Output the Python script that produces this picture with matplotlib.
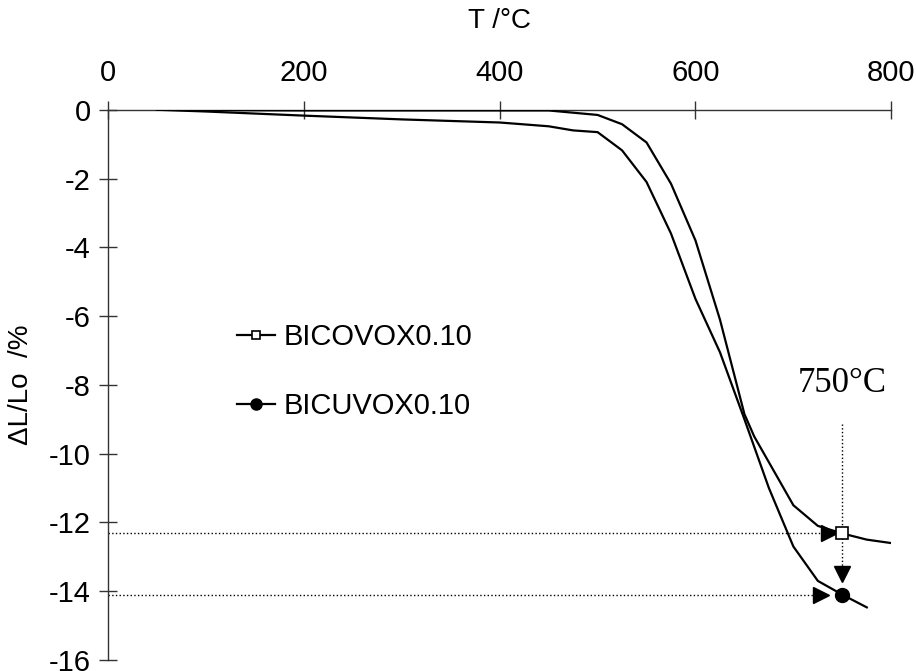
import numpy as np
import matplotlib
matplotlib.use("Agg")
import matplotlib.pyplot as plt

plt.rcParams['font.family'] = ['Liberation Sans', 'DejaVu Sans']
plt.rcParams['axes.unicode_minus'] = False

# dilatometry data
t_co = [50, 100, 200, 300, 400, 450, 500, 525, 550, 575, 600, 625, 650, 660, 700, 725, 750, 775, 800]
dl_co = [0, -0.01, -0.02, -0.02, -0.02, -0.02, -0.15, -0.42, -0.95, -2.15, -3.8, -6.1, -8.85, -9.5,
         -11.5, -12.1, -12.32, -12.5, -12.6]

t_cu = [50, 100, 200, 300, 400, 450, 475, 500, 525, 550, 575, 600, 625, 650, 675, 700, 725, 750, 775]
dl_cu = [0, -0.05, -0.17, -0.28, -0.37, -0.48, -0.6, -0.65, -1.18, -2.1, -3.6, -5.5, -7.05, -9.0,
         -11.0, -12.7, -13.7, -14.1, -14.47]

labels = ['BICOVOX0.10', 'BICUVOX0.10']
t_mark = 750
xticks = [0, 200, 400, 600, 800]
yticks = [0, -2, -4, -6, -8, -10, -12, -14, -16]

fig = plt.figure(figsize=(9.16, 6.71), dpi=100)
ax = fig.add_axes([0.118, 0.0164, 0.855, 0.82])

i_co = t_co.index(t_mark)
i_cu = t_cu.index(t_mark)
y_co = dl_co[i_co]
y_cu = dl_cu[i_cu]

# dotted guide lines to the 750 °C readings
ax.plot([0, t_mark - 14], [y_co, y_co], ls=':', color='k', lw=1)
ax.plot([0, t_mark - 22], [y_cu, y_cu], ls=':', color='k', lw=1)
ax.plot([t_mark, t_mark], [-9.15, y_cu + 0.55], ls=':', color='k', lw=1)
ax.plot([t_mark - 14, t_mark - 22], [y_co, y_cu], ls='none', marker='>', ms=11, color='k')
ax.plot([t_mark], [y_cu + 0.6], ls='none', marker='v', ms=11, color='k')

ax.plot(t_co, dl_co, color='k', lw=1.6, marker='s', ms=8, mfc='white', mec='k', mew=1.2,
        markevery=[i_co], label=labels[0], zorder=3)
ax.plot(t_cu, dl_cu, color='k', lw=1.6, marker='o', ms=10, mfc='k', mec='k',
        markevery=[i_cu], label=labels[1], zorder=3)

ax.text(t_mark, -8.45, '750°C', family='Liberation Serif', fontsize=25, ha='center', va='bottom')

ax.set_xlim(0, 800)
ax.set_ylim(-16, 0)
ax.set_xticks(xticks)
ax.set_yticks(yticks)
ax.xaxis.tick_top()
ax.xaxis.set_label_position('top')
ax.set_xlabel('T /°C', fontsize=20, labelpad=22)
ax.set_ylabel('ΔL/Lo  /%', fontsize=20)
ax.yaxis.set_label_coords(-0.095, 0.5)

for s in ['right', 'bottom']:
    ax.spines[s].set_visible(False)
for s in ['left', 'top']:
    ax.spines[s].set_color('#333333')
    ax.spines[s].set_linewidth(1.0)
ax.tick_params(axis='both', direction='inout', length=13, width=1.0, color='#333333',
               labelsize=21, pad=6)
ax.tick_params(axis='x', pad=10)

ax.legend(loc='upper left', bbox_to_anchor=(0.15, 0.633), frameon=False, fontsize=21,
          handlelength=1.3, handletextpad=0.3, labelspacing=1.4, numpoints=1,
          markerscale=0.8, borderaxespad=0)

fig.savefig('out.png', dpi=100)
